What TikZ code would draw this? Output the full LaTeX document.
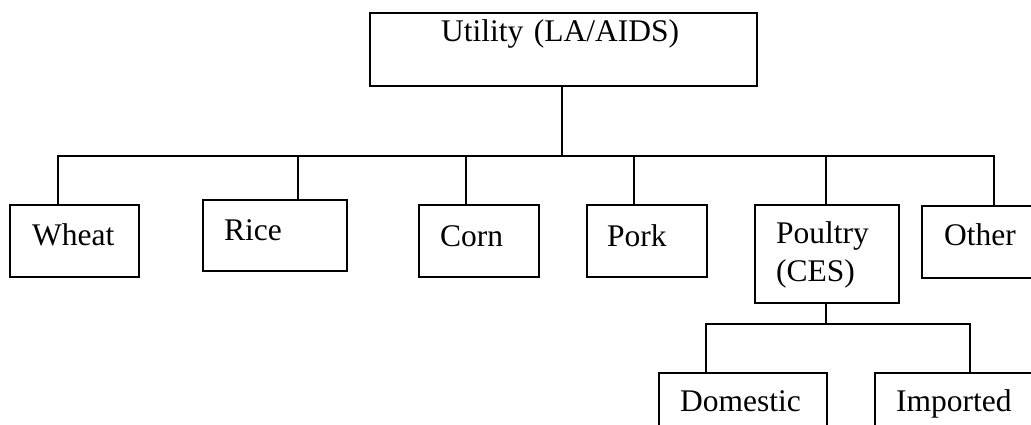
\documentclass[tikz,border=0pt]{standalone}
\usepackage{fontspec}
\setmainfont{Liberation Serif}
\begin{document}
\begin{tikzpicture}[x=1pt,y=-1pt,
  box/.style={draw, line width=2.2pt, rectangle, anchor=north west, inner ysep=0pt, inner xsep=21pt, align=left, font=\fontsize{31.5}{38}\selectfont},
  link/.style={line width=2.2pt}]
\useasboundingbox (0,0) rectangle (1031,425);
\clip (0,0) rectangle (1031,425);

\node[box, inner xsep=71pt, text width=245pt, text height=28pt, text depth=45pt] (util) at (369,12) {Utility (LA/AIDS)};

\node[box, inner xsep=22pt, text width=85pt, text height=40pt, text depth=32pt] (wheat) at (9,204) {Wheat};
\node[box, text width=102pt, text height=40pt, text depth=31pt] (rice) at (202,199) {Rice};
\node[box, text width=78pt, text height=41pt, text depth=31pt] (corn) at (418,204) {Corn};
\node[box, inner xsep=20pt, text width=80pt, text height=41pt, text depth=31pt] (pork) at (586,204) {Pork};
\node[box, text width=102pt, text height=38pt, text depth=60pt] (poultry) at (754,204) {Poultry\\(CES)};
\node[box, inner xsep=22pt, text width=86pt, text height=39pt, text depth=33pt] (other) at (921,205) {Other};

\node[box, text width=126pt, text height=38pt, text depth=60pt] (dom) at (658,372) {Domestic};
\node[box, text width=128pt, text height=38pt, text depth=60pt] (imp) at (874,372) {Imported};

\coordinate (bus) at (562,156);
\coordinate (tw) at (58,156);
\coordinate (tr) at (298,156);
\coordinate (tc) at (466,156);
\coordinate (tp) at (634,156);
\coordinate (tq) at (826,156);
\coordinate (to) at (994,156);

\draw[link] (util.south -| bus) -- (bus);
\draw[link] (tw |- wheat.north) -- (tw) -- (to) -- (to |- other.north);
\draw[link] (tr) -- (tr |- rice.north);
\draw[link] (tc) -- (tc |- corn.north);
\draw[link] (tp) -- (tp |- pork.north);
\draw[link] (tq) -- (tq |- poultry.north);

\coordinate (sb) at (826,324);
\coordinate (td) at (706,324);
\coordinate (ti) at (970,324);
\draw[link] (poultry.south -| sb) -- (sb);
\draw[link] (td |- dom.north) -- (td) -- (ti) -- (ti |- imp.north);
\end{tikzpicture}
\end{document}
